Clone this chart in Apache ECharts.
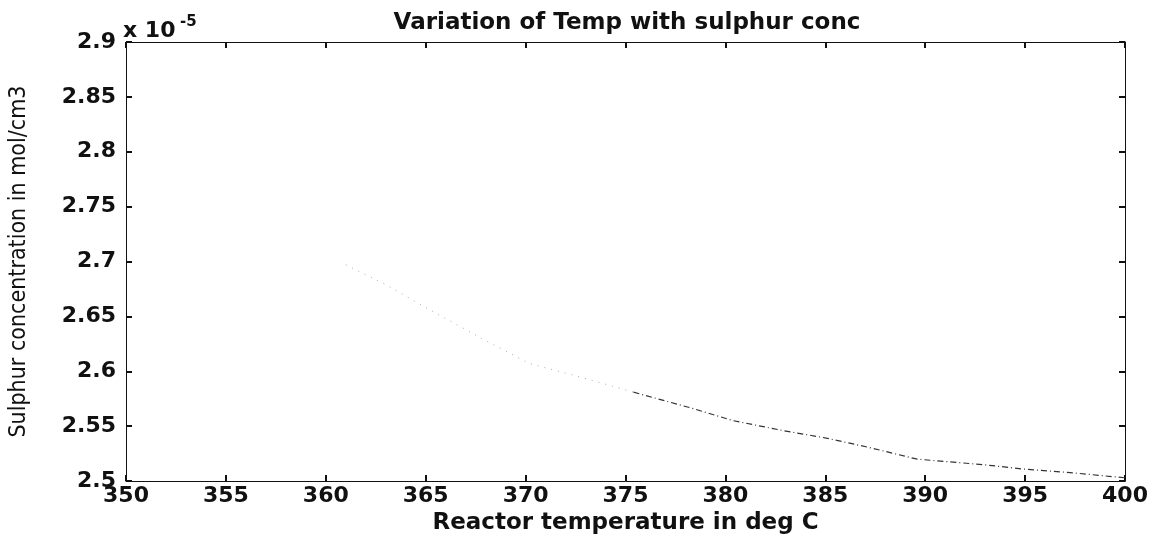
<!DOCTYPE html>
<html>
<head>
<meta charset="utf-8">
<script src="https://cdn.jsdelivr.net/npm/echarts@6/dist/echarts.min.js"></script>
<style>
html,body{margin:0;padding:0;background:#fff;}
#chart{width:1168px;height:540px;}
</style>
</head>
<body>
<div id="chart"></div>
<script>
// Data (sulphur concentration in units of 1e-5 mol/cm3)
const temperature = [361, 363, 365.7, 367.8, 370.2, 372.5, 375.4, 378.4, 380.4, 382.9, 385.1, 387.1, 389.6, 392.9, 394.9, 397.1, 400];
const sulphur = [2.697, 2.679, 2.651, 2.630, 2.607, 2.596, 2.581, 2.566, 2.555, 2.546, 2.539, 2.531, 2.520, 2.515, 2.511, 2.508, 2.503];
const xTicks = [350, 355, 360, 365, 370, 375, 380, 385, 390, 395, 400];
const yTicks = [2.5, 2.55, 2.6, 2.65, 2.7, 2.75, 2.8, 2.85, 2.9];
const titleText = 'Variation of Temp with sulphur conc';
const xLabel = 'Reactor temperature in deg C';
const yLabel = 'Sulphur concentration in mol/cm3';
const multiplierBase = 'x 10';
const multiplierExp = '-5';
const splitIndex = 6;

const pts = temperature.map((t, i) => [t, sulphur[i]]);
const faint = pts.slice(0, splitIndex + 1);
const dark = pts.slice(splitIndex);

const F = "'DejaVu Sans', sans-serif";
const tickFont = {fontFamily: F, fontSize: 22, fontWeight: 'bold', color: '#111'};

function axisBase(extra) {
  return Object.assign({
    axisLine: {show: true, onZero: false, lineStyle: {color: '#111', width: 1}},
    axisTick: {show: true, inside: true, length: 6, lineStyle: {color: '#111', width: 2}},
    splitLine: {show: false}
  }, extra);
}

const chart = echarts.init(document.getElementById('chart'));
chart.setOption({
  animation: false,
  backgroundColor: '#fff',
  title: {
    text: titleText,
    left: 622, top: 7, textAlign: 'center',
    textStyle: {fontFamily: F, fontSize: 23, fontWeight: 'bold', color: '#111'}
  },
  grid: {left: 123, right: 43, top: 42, bottom: 42},
  xAxis: [
    axisBase({type: 'value', position: 'bottom', min: 350, max: 400, interval: 5,
      axisLabel: Object.assign({margin: 4, formatter: v => String(v)}, tickFont),
      name: xLabel, nameLocation: 'middle', nameGap: 26,
      nameTextStyle: {fontFamily: F, fontSize: 23, fontWeight: 'bold', color: '#111'}}),
    axisBase({type: 'value', position: 'top', min: 350, max: 400, interval: 5,
      axisLabel: {show: false}})
  ],
  yAxis: [
    axisBase({type: 'value', position: 'left', min: 2.5, max: 2.9, interval: 0.05,
      axisLabel: Object.assign({margin: 10, formatter: v => String(+v.toFixed(2))}, tickFont),
      name: yLabel, nameLocation: 'middle', nameGap: 95, nameRotate: 90,
      nameTextStyle: {fontFamily: "'DejaVu Sans Condensed', sans-serif", fontSize: 23, color: '#111'}}),
    axisBase({type: 'value', position: 'right', min: 2.5, max: 2.9, interval: 0.05,
      axisLabel: {show: false}})
  ],
  graphic: [
    {type: 'text', x: 123, y: 31,
      style: {text: multiplierBase, font: "bold 22px 'DejaVu Sans', sans-serif", fill: '#111', align: 'left', verticalAlign: 'middle'}},
    {type: 'text', x: 180, y: 22,
      style: {text: multiplierExp, font: "bold 15px 'DejaVu Sans', sans-serif", fill: '#111', align: 'left', verticalAlign: 'middle'}}
  ],
  series: [
    {type: 'line', data: faint, showSymbol: false, smooth: false,
      lineStyle: {color: '#aaa', width: 1, type: [1, 6]}},
    {type: 'line', data: dark, showSymbol: false, smooth: false,
      lineStyle: {color: '#333', width: 1.2, type: [6, 3, 1, 3]}}
  ]
});
</script>
</body>
</html>
